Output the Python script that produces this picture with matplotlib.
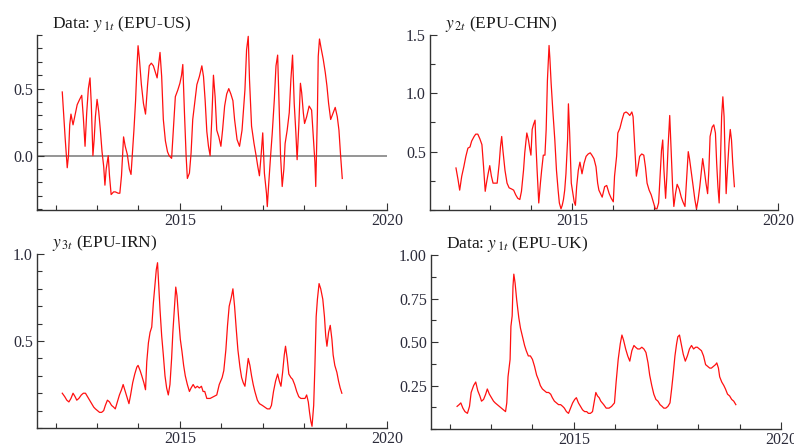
import matplotlib
matplotlib.use("Agg")
import matplotlib.pyplot as plt
from matplotlib.ticker import MultipleLocator, FixedLocator

plt.rcParams['font.family'] = ['Liberation Serif', 'DejaVu Serif']
plt.rcParams['mathtext.fontset'] = 'stix'

# EPU-US
yrs_us = [2012.16, 2012.20, 2012.23, 2012.28, 2012.31, 2012.34, 2012.37, 2012.42, 2012.46, 2012.52,
          2012.58, 2012.63, 2012.67, 2012.71, 2012.75, 2012.79, 2012.83, 2012.86, 2012.90, 2012.93,
          2012.96, 2013.00, 2013.04, 2013.08, 2013.12, 2013.16, 2013.19, 2013.22, 2013.27, 2013.30,
          2013.34, 2013.40, 2013.44, 2013.51, 2013.55, 2013.59, 2013.64, 2013.68, 2013.73, 2013.78,
          2013.82, 2013.85, 2013.89, 2013.93, 2013.96, 2013.99, 2014.02, 2014.07, 2014.12, 2014.17,
          2014.22, 2014.26, 2014.31, 2014.36, 2014.40, 2014.45, 2014.49, 2014.52, 2014.56, 2014.60,
          2014.65, 2014.70, 2014.74, 2014.80, 2014.84, 2014.89, 2014.95, 2015.00, 2015.04, 2015.07,
          2015.11, 2015.15, 2015.18, 2015.23, 2015.27, 2015.31,
          2015.41, 2015.47, 2015.53, 2015.57, 2015.61, 2015.65, 2015.69, 2015.73, 2015.77, 2015.81,
          2015.85, 2015.89, 2015.94, 2015.99,
          2016.03, 2016.08, 2016.13, 2016.18, 2016.23, 2016.28, 2016.32, 2016.38, 2016.44, 2016.50,
          2016.57, 2016.61, 2016.65, 2016.68, 2016.73, 2016.79, 2016.84, 2016.88, 2016.92, 2016.96,
          2017.00, 2017.04, 2017.09, 2017.11, 2017.14, 2017.19, 2017.23, 2017.28, 2017.32, 2017.36,
          2017.39, 2017.43, 2017.47, 2017.51, 2017.54, 2017.59, 2017.64, 2017.68, 2017.72, 2017.76,
          2017.80, 2017.83, 2017.87, 2017.91, 2017.94, 2017.98,
          2018.01, 2018.06, 2018.12, 2018.18, 2018.22, 2018.26, 2018.28, 2018.32, 2018.34, 2018.37,
          2018.41, 2018.46, 2018.51, 2018.55, 2018.59, 2018.64, 2018.69, 2018.75, 2018.80, 2018.84,
          2018.88, 2018.92]
epu_us = [0.475, 0.27, 0.13, -0.09, 0.0, 0.23, 0.31, 0.23, 0.29, 0.38,
          0.42, 0.45, 0.28, 0.07, 0.32, 0.50, 0.58, 0.39, 0.0, 0.12,
          0.29, 0.42, 0.33, 0.19, 0.03, -0.08, -0.22, -0.10, 0.0, -0.15,
          -0.29, -0.27, -0.27, -0.28, -0.28, -0.15, 0.14, 0.07, 0.01, -0.10,
          -0.14, 0.0, 0.19, 0.41, 0.64, 0.82, 0.73, 0.53, 0.39, 0.31,
          0.53, 0.67, 0.69, 0.67, 0.63, 0.58, 0.69, 0.77, 0.59, 0.27,
          0.11, 0.03, 0.0, -0.02, 0.19, 0.44, 0.49, 0.54, 0.60, 0.68,
          0.32, 0.0, -0.17, -0.13, 0.02, 0.27,
          0.53, 0.59, 0.67, 0.59, 0.41, 0.18, 0.07, 0.0, 0.27, 0.60,
          0.44, 0.19, 0.14, 0.07,
          0.19, 0.37, 0.46, 0.50, 0.46, 0.41, 0.27, 0.12, 0.07, 0.19,
          0.49, 0.79, 0.89, 0.57, 0.22, 0.09, 0.0, -0.08, -0.15, 0.0,
          0.17, -0.13, -0.28, -0.38, -0.23, 0.0, 0.17, 0.42, 0.67, 0.75,
          0.44, 0.0, -0.23, -0.10, 0.09, 0.19, 0.32, 0.57, 0.75, 0.39,
          0.17, -0.03, 0.22, 0.54, 0.47, 0.32,
          0.24, 0.29, 0.37, 0.34, 0.14, -0.05, -0.23, 0.32, 0.74, 0.87,
          0.80, 0.72, 0.62, 0.52, 0.39, 0.27, 0.31, 0.36, 0.29, 0.19,
          0.0, -0.17]

# EPU-CHN
yrs_chn = [2012.18, 2012.23, 2012.27, 2012.32, 2012.37, 2012.42, 2012.47, 2012.52, 2012.56, 2012.62,
           2012.66, 2012.71, 2012.76, 2012.81, 2012.85, 2012.89, 2012.92, 2012.96, 2013.00, 2013.04,
           2013.08, 2013.13, 2013.18, 2013.23, 2013.26, 2013.29, 2013.32, 2013.37, 2013.42, 2013.47,
           2013.53, 2013.58, 2013.63, 2013.68, 2013.73, 2013.77, 2013.82, 2013.85, 2013.90, 2013.94,
           2013.97, 2014.00, 2014.03, 2014.06, 2014.10, 2014.12, 2014.15, 2014.19, 2014.23, 2014.26,
           2014.30, 2014.34, 2014.37, 2014.40, 2014.44, 2014.46, 2014.49, 2014.53, 2014.58, 2014.62,
           2014.66, 2014.69, 2014.73, 2014.76, 2014.79, 2014.82, 2014.85, 2014.89, 2014.91, 2014.94,
           2014.98, 2015.02, 2015.05, 2015.08, 2015.11, 2015.15, 2015.19, 2015.24, 2015.29, 2015.34,
           2015.39, 2015.44, 2015.48, 2015.53, 2015.58, 2015.62, 2015.65,
           2015.73, 2015.79, 2015.84, 2015.90, 2015.95, 2016.00, 2016.03, 2016.08, 2016.11, 2016.16,
           2016.21, 2016.26, 2016.31, 2016.35, 2016.40, 2016.45, 2016.48, 2016.52, 2016.56, 2016.60,
           2016.64, 2016.69, 2016.74, 2016.78, 2016.82, 2016.87, 2016.92, 2016.97, 2017.02, 2017.06,
           2017.10, 2017.14, 2017.17, 2017.20, 2017.23, 2017.27, 2017.30, 2017.33, 2017.37, 2017.40,
           2017.44, 2017.47, 2017.51, 2017.55, 2017.60, 2017.65, 2017.69, 2017.74, 2017.78, 2017.82,
           2017.85, 2017.90, 2017.94, 2017.98, 2018.02, 2018.06, 2018.10, 2018.14, 2018.17, 2018.21,
           2018.25, 2018.29, 2018.32, 2018.35, 2018.40, 2018.44, 2018.48, 2018.51, 2018.54, 2018.57,
           2018.60, 2018.63, 2018.66, 2018.69, 2018.71, 2018.74, 2018.77, 2018.81, 2018.84, 2018.87,
           2018.90, 2018.94]
epu_chn = [0.36, 0.26, 0.17, 0.29, 0.37, 0.46, 0.53, 0.54, 0.59, 0.63,
           0.65, 0.65, 0.61, 0.56, 0.37, 0.16, 0.23, 0.31, 0.38, 0.29,
           0.23, 0.23, 0.23, 0.40, 0.54, 0.63, 0.51, 0.34, 0.23, 0.19,
           0.18, 0.17, 0.13, 0.10, 0.09, 0.16, 0.34, 0.49, 0.66, 0.60,
           0.53, 0.47, 0.69, 0.73, 0.77, 0.57, 0.34, 0.06, 0.23, 0.34,
           0.47, 0.47, 0.69, 1.11, 1.41, 1.30, 1.09, 0.86, 0.60, 0.34,
           0.17, 0.06, 0.01, 0.04, 0.09, 0.17, 0.31, 0.60, 0.91, 0.66,
           0.23, 0.14, 0.07, 0.04, 0.20, 0.34, 0.41, 0.31, 0.40, 0.46,
           0.48, 0.49, 0.47, 0.44, 0.37, 0.23, 0.17,
           0.11, 0.20, 0.21, 0.14, 0.10, 0.07, 0.29, 0.46, 0.66, 0.70,
           0.77, 0.83, 0.84, 0.83, 0.81, 0.84, 0.80, 0.54, 0.29, 0.37,
           0.46, 0.48, 0.47, 0.37, 0.23, 0.17, 0.13, 0.07, 0.01, 0.01,
           0.06, 0.31, 0.51, 0.60, 0.34, 0.10, 0.29, 0.54, 0.81, 0.54,
           0.20, 0.03, 0.14, 0.22, 0.18, 0.11, 0.07, 0.03, 0.26, 0.50,
           0.44, 0.31, 0.20, 0.09, 0.01, 0.09, 0.20, 0.34, 0.44, 0.34,
           0.23, 0.14, 0.34, 0.63, 0.71, 0.73, 0.66, 0.40, 0.20, 0.06,
           0.40, 0.80, 0.97, 0.80, 0.51, 0.14, 0.34, 0.57, 0.69, 0.60,
           0.40, 0.20]

# EPU-IRN
yrs_irn = [2012.16, 2012.22, 2012.27, 2012.32, 2012.37, 2012.42, 2012.47, 2012.51, 2012.56, 2012.62,
           2012.67, 2012.72, 2012.77, 2012.82, 2012.87, 2012.92, 2012.96, 2013.01, 2013.06, 2013.11,
           2013.16, 2013.20, 2013.25, 2013.30, 2013.35, 2013.40, 2013.44, 2013.49, 2013.54, 2013.59,
           2013.63, 2013.68, 2013.73, 2013.77, 2013.81, 2013.86, 2013.91, 2013.96, 2013.99, 2014.04,
           2014.08, 2014.13, 2014.17, 2014.20, 2014.24, 2014.28, 2014.32, 2014.36, 2014.40, 2014.43,
           2014.46, 2014.49, 2014.52, 2014.56, 2014.60, 2014.64, 2014.68, 2014.72, 2014.76, 2014.80,
           2014.83, 2014.87, 2014.90, 2014.93, 2014.97, 2015.01, 2015.05, 2015.09, 2015.13, 2015.18,
           2015.23, 2015.27, 2015.32, 2015.37, 2015.42, 2015.47, 2015.52, 2015.56,
           2015.60, 2015.65, 2015.73, 2015.81, 2015.89, 2015.95, 2016.02, 2016.06, 2016.11, 2016.15,
           2016.19, 2016.24, 2016.28, 2016.32, 2016.36, 2016.40, 2016.45, 2016.49, 2016.53, 2016.57,
           2016.61, 2016.65, 2016.69, 2016.73, 2016.77, 2016.81, 2016.87, 2016.92, 2016.99, 2017.05,
           2017.11, 2017.17, 2017.21, 2017.26, 2017.31, 2017.36, 2017.40, 2017.44, 2017.48, 2017.52,
           2017.55, 2017.59, 2017.63, 2017.68, 2017.72, 2017.77, 2017.82, 2017.87, 2017.92, 2017.97,
           2018.02, 2018.06, 2018.10, 2018.13, 2018.16, 2018.19, 2018.23, 2018.26, 2018.29, 2018.32,
           2018.36, 2018.40, 2018.45, 2018.49, 2018.52, 2018.55, 2018.59, 2018.63, 2018.67, 2018.70,
           2018.74, 2018.79, 2018.83, 2018.87, 2018.91]
epu_irn = [0.20, 0.18, 0.16, 0.15, 0.17, 0.20, 0.18, 0.16, 0.17, 0.19,
           0.20, 0.20, 0.18, 0.16, 0.14, 0.12, 0.11, 0.10, 0.09, 0.09,
           0.10, 0.13, 0.16, 0.15, 0.13, 0.12, 0.11, 0.15, 0.19, 0.22,
           0.25, 0.21, 0.17, 0.14, 0.19, 0.26, 0.31, 0.35, 0.36, 0.33,
           0.30, 0.26, 0.22, 0.38, 0.49, 0.55, 0.58, 0.72, 0.83, 0.91,
           0.95, 0.81, 0.68, 0.53, 0.42, 0.30, 0.23, 0.19, 0.25, 0.40,
           0.55, 0.70, 0.81, 0.76, 0.63, 0.51, 0.44, 0.36, 0.30, 0.25,
           0.21, 0.23, 0.25, 0.23, 0.24, 0.23, 0.24, 0.21,
           0.21, 0.17, 0.17, 0.18, 0.19, 0.25, 0.29, 0.33, 0.45, 0.59,
           0.70, 0.75, 0.80, 0.70, 0.57, 0.45, 0.35, 0.29, 0.26, 0.24,
           0.32, 0.40, 0.36, 0.30, 0.25, 0.21, 0.16, 0.14, 0.13, 0.12,
           0.11, 0.11, 0.13, 0.21, 0.27, 0.31, 0.27, 0.24, 0.32, 0.42,
           0.47, 0.40, 0.31, 0.29, 0.28, 0.25, 0.21, 0.18, 0.17, 0.17,
           0.17, 0.19, 0.15, 0.09, 0.04, 0.01, 0.13, 0.36, 0.64, 0.74,
           0.83, 0.80, 0.74, 0.64, 0.53, 0.47, 0.55, 0.59, 0.51, 0.42,
           0.36, 0.32, 0.27, 0.23, 0.20]

# EPU-UK
yrs_uk = [2012.18, 2012.23, 2012.27, 2012.32, 2012.37, 2012.43, 2012.48, 2012.52, 2012.58, 2012.63,
          2012.68, 2012.73, 2012.77, 2012.82, 2012.87, 2012.91, 2012.96, 2013.01, 2013.06, 2013.10,
          2013.15, 2013.20, 2013.25, 2013.30, 2013.35, 2013.38, 2013.41, 2013.46, 2013.48, 2013.51,
          2013.53, 2013.55, 2013.58, 2013.62, 2013.67, 2013.71, 2013.76, 2013.81, 2013.85, 2013.90,
          2013.95, 2014.00, 2014.05, 2014.10, 2014.15, 2014.19, 2014.24, 2014.29, 2014.34, 2014.39,
          2014.44, 2014.48, 2014.53, 2014.58, 2014.63, 2014.68, 2014.73, 2014.77, 2014.82, 2014.87,
          2014.92, 2014.97, 2015.02, 2015.06, 2015.11, 2015.16, 2015.21, 2015.26, 2015.31, 2015.35,
          2015.40, 2015.45, 2015.50, 2015.53, 2015.57, 2015.61,
          2015.65, 2015.72, 2015.78, 2015.85, 2015.91, 2015.98, 2016.02, 2016.07, 2016.12, 2016.16,
          2016.20, 2016.25, 2016.30, 2016.35, 2016.40, 2016.45, 2016.49, 2016.54, 2016.59, 2016.64,
          2016.69, 2016.74, 2016.79, 2016.83, 2016.88, 2016.93, 2016.98, 2017.03, 2017.08, 2017.13,
          2017.17, 2017.22, 2017.27, 2017.32, 2017.36, 2017.40, 2017.44, 2017.48, 2017.51, 2017.55,
          2017.60, 2017.64, 2017.69, 2017.74, 2017.79, 2017.84, 2017.89, 2017.94, 2017.98, 2018.03,
          2018.08, 2018.13, 2018.18, 2018.23, 2018.28, 2018.32, 2018.37, 2018.42, 2018.45, 2018.49,
          2018.52, 2018.57, 2018.62, 2018.66, 2018.71, 2018.76, 2018.81, 2018.86, 2018.91]
epu_uk = [0.13, 0.14, 0.15, 0.12, 0.10, 0.09, 0.13, 0.21, 0.25, 0.27,
          0.22, 0.19, 0.16, 0.17, 0.20, 0.23, 0.20, 0.18, 0.16, 0.15,
          0.14, 0.13, 0.12, 0.11, 0.10, 0.15, 0.30, 0.40, 0.59, 0.65,
          0.82, 0.89, 0.84, 0.74, 0.64, 0.58, 0.53, 0.48, 0.45, 0.42,
          0.42, 0.40, 0.36, 0.31, 0.28, 0.25, 0.23, 0.22, 0.21, 0.21,
          0.20, 0.18, 0.16, 0.15, 0.14, 0.14, 0.13, 0.12, 0.10, 0.09,
          0.12, 0.15, 0.17, 0.18, 0.15, 0.13, 0.11, 0.10, 0.10, 0.09,
          0.09, 0.10, 0.17, 0.21, 0.19, 0.18,
          0.16, 0.14, 0.12, 0.12, 0.13, 0.15, 0.27, 0.40, 0.49, 0.54,
          0.51, 0.46, 0.42, 0.39, 0.45, 0.48, 0.47, 0.46, 0.46, 0.47,
          0.46, 0.44, 0.38, 0.31, 0.25, 0.20, 0.17, 0.16, 0.14, 0.13,
          0.12, 0.12, 0.13, 0.15, 0.23, 0.32, 0.42, 0.49, 0.53, 0.54,
          0.48, 0.43, 0.39, 0.42, 0.46, 0.48, 0.46, 0.47, 0.47, 0.46,
          0.45, 0.42, 0.37, 0.36, 0.35, 0.35, 0.36, 0.37, 0.38, 0.35,
          0.30, 0.27, 0.25, 0.23, 0.20, 0.19, 0.17, 0.16, 0.14]

titles = [r"Data: $y_{\,1t}$ (EPU-US)", r"$y_{\,2t}$ (EPU-CHN)",
          r"$y_{\,3t}$ (EPU-IRN)", r"Data: $y_{\,1t}$ (EPU-UK)"]

fig = plt.figure(figsize=(7.94, 4.48), dpi=100)

# [left, bottom, width, height], ylim, major step, minor step, label format
panels = [
    ([0.0466, 0.5313, 0.4408, 0.3906], (-0.405, 0.90), 0.5, 0.1, "%.1f", yrs_us, epu_us),
    ([0.5416, 0.5313, 0.4383, 0.3906], (0.0, 1.5), 0.5, 0.25, "%.1f", yrs_chn, epu_chn),
    ([0.0466, 0.0446, 0.4408, 0.3884], (0.0, 1.0), 0.5, 0.1, "%.1f", yrs_irn, epu_irn),
    ([0.5428, 0.0424, 0.4408, 0.3884], (0.0, 1.0), 0.25, 0.125, "%.2f", yrs_uk, epu_uk),
]

for i, (rect, ylim, maj, mnr, fmt, xs, ys) in enumerate(panels):
    ax = fig.add_axes(rect)
    ax.patch.set_alpha(0)
    if i == 0:
        ax.axhline(0, color='#8c8c8c', lw=1.3, zorder=1)
    ax.plot(xs, ys, color='#ff1010', lw=0.9, zorder=2)
    ax.set_xlim(2011.55, 2020)
    ax.set_ylim(*ylim)
    for s in ['top', 'right']:
        ax.spines[s].set_visible(False)
    for s in ['left', 'bottom']:
        ax.spines[s].set_color('#333333')
        ax.spines[s].set_linewidth(1.0)
    ax.xaxis.set_major_locator(FixedLocator([2015, 2020]))
    ax.xaxis.set_minor_locator(MultipleLocator(1))
    ax.yaxis.set_major_locator(MultipleLocator(maj))
    ax.yaxis.set_minor_locator(MultipleLocator(mnr))
    ax.yaxis.set_major_formatter(matplotlib.ticker.FormatStrFormatter(fmt))
    ax.tick_params(which='both', direction='in', color='#333333', labelcolor='#2b2b3a',
                   labelsize=11.5)
    ax.tick_params(which='major', length=5, width=0.8)
    ax.tick_params(which='minor', length=3.5, width=0.8)
    ax.tick_params(axis='x', pad=2)
    ax.tick_params(axis='y', pad=3)
    # hide 0 label on panels starting at zero
    if ylim[0] == 0.0:
        ax.set_yticks([t for t in ax.get_yticks() if t > 0.01 and t <= ylim[1] + 1e-9])
    ax.annotate(titles[i], xy=(0, 1), xycoords='axes fraction', xytext=(11, 1),
                textcoords='offset points', ha='left', va='bottom', fontsize=12.5,
                color='#1a1a1a', annotation_clip=False)

fig.savefig("out.png", dpi=100)
